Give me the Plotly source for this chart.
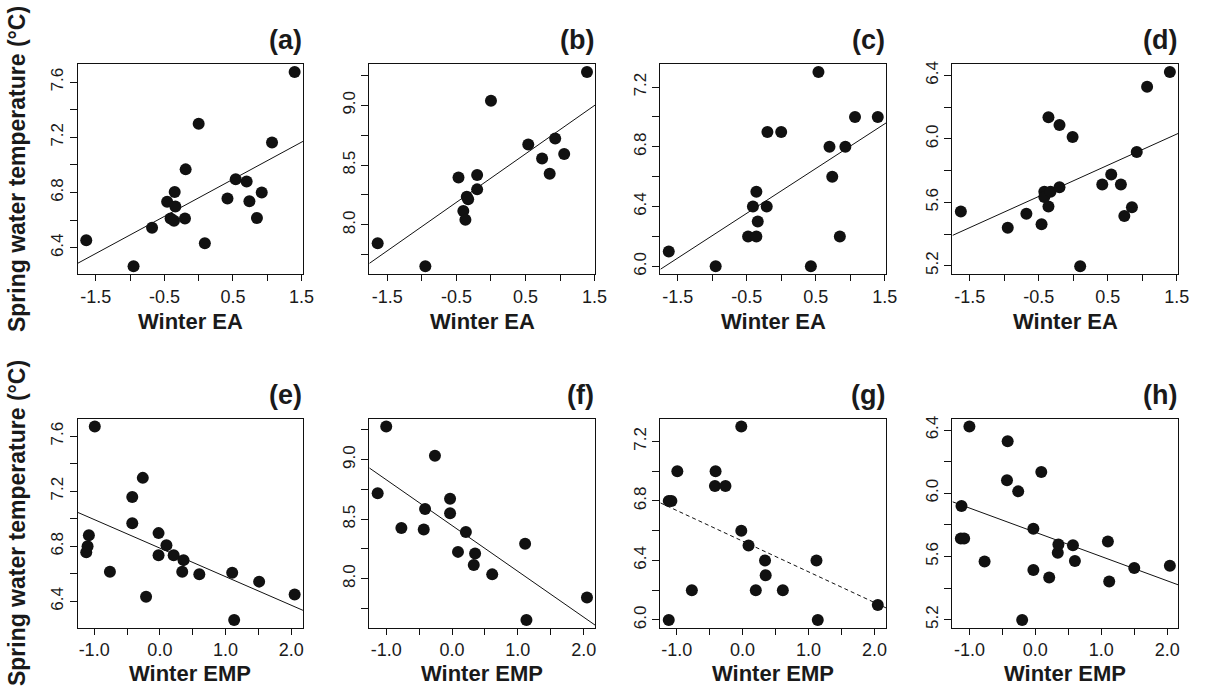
import numpy as np
import plotly.graph_objects as go

# ---------------- data ----------------
# Top row: Winter EA vs spring water temperature
a_x = [-1.64, -0.95, -0.68, -0.46, -0.35, -0.34, -0.41, -0.36, -0.20, -0.19,
       0.00, 0.09, 0.42, 0.54, 0.70, 0.74, 0.85, 0.92, 1.07, 1.40]
a_y = [6.455, 6.266, 6.546, 6.733, 6.805, 6.700, 6.613, 6.596, 6.613, 6.968,
       7.298, 6.434, 6.757, 6.896, 6.881, 6.738, 6.616, 6.800, 7.162, 7.672]

b_x = [-1.64, -0.95, -0.47, -0.40, -0.37, -0.35, -0.33, -0.20, -0.20, 0.00,
       0.54, 0.74, 0.85, 0.93, 1.06, 1.39]
b_y = [7.847, 7.653, 8.397, 8.117, 8.042, 8.236, 8.214, 8.417, 8.297, 9.039,
       8.672, 8.556, 8.428, 8.722, 8.592, 9.278]

c_x = [-1.63, -0.95, -0.48, -0.41, -0.36, -0.36, -0.34, -0.21, -0.20, 0.00,
       0.43, 0.54, 0.70, 0.74, 0.85, 0.93, 1.07, 1.40]
c_y = [6.1, 6.0, 6.2, 6.4, 6.2, 6.5, 6.3, 6.4, 6.9, 6.9,
       6.0, 7.3, 6.8, 6.6, 6.2, 6.8, 7.0, 7.0]

d_x = [-1.63, -0.95, -0.68, -0.46, -0.42, -0.42, -0.36, -0.36, -0.33, -0.20,
       -0.20, -0.01, 0.10, 0.42, 0.55, 0.69, 0.74, 0.85, 0.92, 1.07, 1.40]
d_y = [5.542, 5.439, 5.527, 5.462, 5.666, 5.634, 5.573, 6.136, 5.666, 5.695,
       6.087, 6.012, 5.196, 5.712, 5.775, 5.712, 5.513, 5.569, 5.917, 6.329, 6.421]

# Bottom row: Winter EMP vs spring water temperature
e_x = [-0.99, -1.12, -1.10, -1.08, -0.76, -0.42, -0.42, -0.26, -0.21, -0.02,
       -0.02, 0.10, 0.21, 0.36, 0.34, 0.60, 1.10, 1.13, 1.51, 2.05]
e_y = [7.669, 6.757, 6.800, 6.880, 6.616, 7.158, 6.968, 7.297, 6.434, 6.896,
       6.736, 6.808, 6.736, 6.700, 6.616, 6.597, 6.609, 6.266, 6.544, 6.450]

f_x = [-1.00, -1.13, -0.77, -0.43, -0.41, -0.26, -0.03, -0.03, 0.09, 0.21,
       0.35, 0.33, 0.61, 1.11, 1.13, 2.05]
f_y = [9.278, 8.717, 8.425, 8.414, 8.586, 9.033, 8.672, 8.550, 8.225, 8.392,
       8.211, 8.114, 8.036, 8.294, 7.653, 7.842]

g_x = [-1.12, -1.12, -1.08, -0.99, -0.77, -0.41, -0.42, -0.26, -0.02, -0.02,
       0.09, 0.20, 0.34, 0.35, 0.61, 1.12, 1.14, 2.05]
g_y = [6.0, 6.8, 6.8, 7.0, 6.2, 7.0, 6.9, 6.9, 7.3, 6.6,
       6.5, 6.2, 6.4, 6.3, 6.2, 6.4, 6.0, 6.1]

h_x = [-1.00, -1.12, -1.13, -1.08, -0.77, -0.42, -0.43, -0.26, -0.20, -0.03,
       -0.03, 0.09, 0.21, 0.34, 0.35, 0.57, 0.60, 1.10, 1.12, 1.50, 2.04]
h_y = [6.422, 5.920, 5.713, 5.713, 5.568, 6.330, 6.083, 6.012, 5.198, 5.775,
       5.514, 6.134, 5.466, 5.623, 5.675, 5.671, 5.571, 5.694, 5.441, 5.527, 5.541]

# tick values / labels
ea_ticks = [-1.5, -1.0, -0.5, 0.0, 0.5, 1.0, 1.5]
ea_labels = ["-1.5", "", "-0.5", "", "0.5", "", "1.5"]
emp_ticks = [-1.0, -0.5, 0.0, 0.5, 1.0, 1.5, 2.0]
emp_labels = ["-1.0", "", "0.0", "", "1.0", "", "2.0"]

y1_ticks = [6.2, 6.4, 6.6, 6.8, 7.0, 7.2, 7.4, 7.6]
y1_labels = ["", "6.4", "", "6.8", "", "7.2", "", "7.6"]
y2_ticks = [7.75, 8.0, 8.25, 8.5, 8.75, 9.0, 9.25]
y2_labels = ["", "8.0", "", "8.5", "", "9.0", ""]
y3_ticks = [6.0, 6.2, 6.4, 6.6, 6.8, 7.0, 7.2]
y3_labels = ["6.0", "", "6.4", "", "6.8", "", "7.2"]
y4_ticks = [5.2, 5.4, 5.6, 5.8, 6.0, 6.2, 6.4]
y4_labels = ["5.2", "", "5.6", "", "6.0", "", "6.4"]

panel_labels = ["(a)", "(b)", "(c)", "(d)", "(e)", "(f)", "(g)", "(h)"]
x_titles = ["Winter EA"] * 4 + ["Winter EMP"] * 4
y_title = "Spring water temperature (°C)"

# ---------------- layout geometry ----------------
W, H = 1213, 691
col_px = [(78.7, 306.0), (373.0, 601.3), (667.0, 895.0), (962.0, 1190.0)]
row_px = [(61.7, 272.7), (418.3, 628.3)]
title_off = [48, 46]

FONT = "Liberation Sans, Arial, Helvetica, sans-serif"

panels = [
    (a_x, a_y, ea_ticks, ea_labels, y1_ticks, y1_labels, "solid"),
    (b_x, b_y, ea_ticks, ea_labels, y2_ticks, y2_labels, "solid"),
    (c_x, c_y, ea_ticks, ea_labels, y3_ticks, y3_labels, "solid"),
    (d_x, d_y, ea_ticks, ea_labels, y4_ticks, y4_labels, "solid"),
    (e_x, e_y, emp_ticks, emp_labels, y1_ticks, y1_labels, "solid"),
    (f_x, f_y, emp_ticks, emp_labels, y2_ticks, y2_labels, "solid"),
    (g_x, g_y, emp_ticks, emp_labels, y3_ticks, y3_labels, "4px,3px"),
    (h_x, h_y, emp_ticks, emp_labels, y4_ticks, y4_labels, "solid"),
]


def r_range(v):
    lo, hi = min(v), max(v)
    pad = 0.04 * (hi - lo)
    return [lo - pad, hi + pad]


fig = go.Figure()
layout = dict(
    width=W, height=H,
    margin=dict(l=0, r=0, t=0, b=0),
    paper_bgcolor="white", plot_bgcolor="white",
    showlegend=False,
    font=dict(family=FONT, color="#1a1a1a"),
)
annotations = []

for i, (px, py, xt, xl, yt, yl, dash) in enumerate(panels):
    r, c = divmod(i, 4)
    n = i + 1
    xa = "x" if n == 1 else f"x{n}"
    ya = "y" if n == 1 else f"y{n}"
    xr = r_range(px)
    yr = r_range(py)
    x0, x1 = col_px[c]
    y0, y1 = row_px[r]

    axis_common = dict(
        showgrid=False, zeroline=False,
        showline=True, mirror=True, linecolor="#111", linewidth=1,
        ticks="outside", ticklen=6, tickwidth=1, tickcolor="#111",
        tickfont=dict(family=FONT, size=18, color="#1a1a1a"),
        tickmode="array",
    )
    layout["xaxis" if n == 1 else f"xaxis{n}"] = dict(
        axis_common, domain=[x0 / W, x1 / W], range=xr,
        tickvals=xt, ticktext=xl, anchor=ya,
    )
    layout["yaxis" if n == 1 else f"yaxis{n}"] = dict(
        axis_common, domain=[1 - y1 / H, 1 - y0 / H], range=yr,
        tickvals=yt, ticktext=yl, anchor=xa, tickangle=-90, ticklen=7,
        tickfont=dict(family=FONT, size=17, color="#1a1a1a"),
    )

    # regression line (ordinary least squares), drawn across the box
    slope, inter = np.polyfit(px, py, 1)
    lx = np.array(xr)
    fig.add_trace(go.Scatter(
        x=lx, y=inter + slope * lx, mode="lines", xaxis=xa, yaxis=ya,
        line=dict(color="#111", width=1, dash=dash), hoverinfo="skip",
    ))
    fig.add_trace(go.Scatter(
        x=px, y=py, mode="markers", xaxis=xa, yaxis=ya,
        marker=dict(size=12, color="#111", line=dict(width=0)),
    ))

    # panel label
    annotations.append(dict(
        text=f"<b>{panel_labels[i]}</b>", xref="paper", yref="paper",
        x=(x1 + 1) / W, y=1 - (y0 - 24) / H, xanchor="right", yanchor="middle",
        showarrow=False, font=dict(family=FONT, size=27, color="#1a1a1a"),
    ))
    # x-axis title
    annotations.append(dict(
        text=f"<b>{x_titles[i]}</b>", xref="paper", yref="paper",
        x=(x0 + x1) / 2 / W, y=1 - (y1 + title_off[r]) / H, xanchor="center",
        yanchor="middle", showarrow=False,
        font=dict(family=FONT, size=22, color="#1a1a1a"),
    ))
    if c == 0:
        annotations.append(dict(
            text=f"<b>{y_title}</b>", xref="paper", yref="paper",
            x=17 / W, y=1 - (y0 + y1) / 2 / H, xanchor="center",
            yanchor="middle", textangle=-90, showarrow=False,
            font=dict(family=FONT, size=23, color="#1a1a1a"),
        ))

layout["annotations"] = annotations
fig.update_layout(**layout)
fig.write_html("out.html")
